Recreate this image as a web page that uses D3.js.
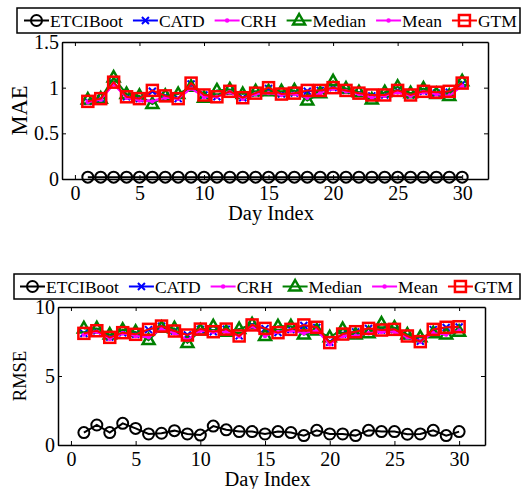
<!DOCTYPE html>
<html>
<head>
<meta charset="utf-8">
<script src="https://cdn.jsdelivr.net/npm/d3@7"></script>
<style>
    body { margin: 0; background: #fff; }
    svg text { font-family: 'Liberation Serif', serif; }
</style>
</head>
<body>
<div id="chart"></div>
<script>
// Day index 1..30
var days = [1, 2, 3, 4, 5, 6, 7, 8, 9, 10, 11, 12, 13, 14, 15,
            16, 17, 18, 19, 20, 21, 22, 23, 24, 25, 26, 27, 28, 29, 30];

var seriesNames = ["ETCIBoot", "CATD", "CRH", "Median", "Mean", "GTM"];

// MAE per method
var maeETCIBoot = [0.02, 0.02, 0.02, 0.02, 0.02, 0.02, 0.02, 0.02, 0.02, 0.02, 0.02, 0.02, 0.02, 0.02, 0.02,
                   0.02, 0.02, 0.02, 0.02, 0.02, 0.02, 0.02, 0.02, 0.02, 0.02, 0.02, 0.02, 0.02, 0.02, 0.02];
var maeCATD   = [0.85, 0.88, 1.05, 0.90, 0.88, 0.96, 0.91, 0.88, 1.04, 0.92, 0.90, 0.96, 0.89, 0.94, 0.99,
                 0.93, 0.94, 0.96, 0.97, 1.00, 0.97, 0.94, 0.91, 0.92, 0.97, 0.92, 0.96, 0.94, 0.95, 1.04];
var maeCRH    = [0.85, 0.87, 1.04, 0.89, 0.87, 0.86, 0.89, 0.88, 1.00, 0.90, 0.90, 0.95, 0.88, 0.93, 0.95,
                 0.92, 0.93, 0.90, 0.94, 0.99, 0.96, 0.93, 0.90, 0.91, 0.95, 0.91, 0.95, 0.93, 0.92, 1.02];
var maeMedian = [0.87, 0.88, 1.11, 0.93, 0.91, 0.82, 0.91, 0.93, 1.01, 0.89, 0.97, 0.98, 0.93, 0.96, 0.96,
                 0.96, 0.97, 0.86, 0.94, 1.07, 0.99, 0.95, 0.87, 0.95, 1.01, 0.94, 0.99, 0.93, 0.91, 1.07];
var maeMean   = [0.84, 0.87, 1.04, 0.89, 0.86, 0.85, 0.89, 0.88, 0.99, 0.90, 0.90, 0.95, 0.88, 0.93, 0.94,
                 0.92, 0.93, 0.89, 0.94, 0.99, 0.96, 0.93, 0.89, 0.91, 0.95, 0.91, 0.95, 0.93, 0.91, 1.02];
var maeGTM    = [0.85, 0.88, 1.06, 0.90, 0.88, 0.97, 0.91, 0.88, 1.05, 0.92, 0.90, 0.96, 0.89, 0.94, 1.00,
                 0.93, 0.94, 0.97, 0.97, 1.00, 0.97, 0.94, 0.92, 0.92, 0.97, 0.92, 0.96, 0.95, 0.96, 1.05];

// RMSE per method
var rmseETCIBoot = [0.90, 1.45, 0.90, 1.57, 1.20, 0.80, 0.85, 1.04, 0.80, 0.72, 1.37, 1.10, 0.97, 0.97, 0.80,
                    0.97, 0.90, 0.68, 1.06, 0.80, 0.80, 0.68, 1.06, 0.97, 0.97, 0.78, 0.80, 1.06, 0.68, 0.97];
var rmseCATD   = [8.08, 8.27, 7.82, 8.14, 8.02, 8.36, 8.60, 8.25, 7.98, 8.38, 8.21, 8.39, 7.91, 8.68, 8.43,
                  8.15, 8.37, 8.66, 8.52, 7.45, 8.04, 8.20, 8.44, 8.33, 8.37, 7.91, 7.52, 8.36, 8.51, 8.55];
var rmseCRH    = [8.02, 8.21, 7.72, 8.10, 7.92, 7.84, 8.42, 8.12, 7.62, 8.30, 8.18, 8.22, 7.88, 8.60, 7.95,
                  8.18, 8.30, 8.12, 8.32, 7.32, 7.92, 7.94, 8.12, 8.20, 8.22, 7.82, 7.50, 8.12, 8.02, 8.30];
var rmseMedian = [8.45, 8.45, 8.00, 8.35, 8.20, 7.60, 8.50, 8.45, 7.40, 8.30, 8.60, 8.20, 8.40, 8.75, 7.90,
                  8.60, 8.60, 8.00, 8.30, 7.80, 8.40, 8.00, 8.10, 8.80, 8.50, 8.00, 7.80, 8.10, 8.00, 8.20];
var rmseMean   = [8.00, 8.20, 7.70, 8.10, 7.90, 7.80, 8.40, 8.10, 7.60, 8.30, 8.20, 8.20, 7.90, 8.60, 7.90,
                  8.20, 8.30, 8.10, 8.30, 7.30, 7.90, 7.90, 8.10, 8.20, 8.20, 7.80, 7.50, 8.10, 8.00, 8.30];
var rmseGTM    = [8.09, 8.28, 7.80, 8.14, 8.02, 8.38, 8.62, 8.26, 7.97, 8.40, 8.21, 8.40, 7.90, 8.70, 8.45,
                  8.14, 8.38, 8.70, 8.53, 7.42, 8.04, 8.21, 8.45, 8.33, 8.38, 7.90, 7.49, 8.38, 8.53, 8.57];

// Tick values
var xTicks = [0, 5, 10, 15, 20, 25, 30];
var maeTicks = [0, 0.5, 1, 1.5];
var rmseTicks = [0, 5, 10];

var serif = "'Liberation Serif', serif";

function init() {
    var w = 531;
    var h = 489;

    // Style for each method (line colour + marker)
    var styles = {
        ETCIBoot: { color: "#000000", marker: "circle" },
        CATD:     { color: "#0000ff", marker: "cross" },
        CRH:      { color: "#ff00ff", marker: "dot" },
        Median:   { color: "#008000", marker: "triangle" },
        Mean:     { color: "#ff00ff", marker: "dot" },
        GTM:      { color: "#ff0000", marker: "square" }
    };

    var svg = d3.select("#chart")
        .append("svg")
        .attr("width", w)
        .attr("height", h);

    // Draw one marker of a given type at (0,0) inside group g
    function drawMarker(g, type, color) {
        if (type === "circle") {
            g.append("circle").attr("r", 5.5)
                .attr("fill", "none").attr("stroke", color).attr("stroke-width", 2);
        } else if (type === "cross") {
            g.append("path").attr("d", "M-3.5,-3.5L3.5,3.5M-3.5,3.5L3.5,-3.5")
                .attr("stroke", color).attr("stroke-width", 2);
        } else if (type === "dot") {
            g.append("circle").attr("r", 2.2).attr("fill", color);
        } else if (type === "triangle") {
            g.append("path").attr("d", "M0,-6.5L6,4L-6,4Z")
                .attr("fill", "none").attr("stroke", color).attr("stroke-width", 2.5);
        } else if (type === "square") {
            g.append("rect").attr("x", -5.5).attr("y", -5.5).attr("width", 11).attr("height", 11)
                .attr("fill", "none").attr("stroke", color).attr("stroke-width", 2.5);
        }
    }

    function drawLegend(x0, y0, x1, y1, itemStart) {
        var legend = svg.append("g");
        legend.append("rect")
            .attr("x", x0).attr("y", y0)
            .attr("width", x1 - x0).attr("height", y1 - y0)
            .attr("fill", "#fff").attr("stroke", "#000").attr("stroke-width", 1.5);

        var cy = (y0 + y1) / 2;
        var x = itemStart;
        seriesNames.forEach(function(name) {
            var st = styles[name];
            legend.append("line")
                .attr("x1", x).attr("x2", x + 25)
                .attr("y1", cy).attr("y2", cy)
                .attr("stroke", st.color).attr("stroke-width", 2);
            drawMarker(legend.append("g").attr("transform", "translate(" + (x + 12.5) + "," + cy + ")"),
                st.marker, st.color);
            var t = legend.append("text")
                .attr("x", x + 26).attr("y", cy)
                .attr("dy", "0.35em")
                .style("font-family", serif)
                .style("font-size", "17.5px")
                .text(name);
            x += 26 + t.node().getComputedTextLength() + 10;
        });
    }

    function drawPanel(opts) {
        var xScale = d3.scaleLinear()
            .domain([-1, 32])
            .range([opts.left, opts.right]);

        var yScale = d3.scaleLinear()
            .domain(opts.yDomain)
            .range([opts.bottom, opts.top]);

        // bottom axis with labels, inward ticks
        var gx = svg.append("g")
            .attr("transform", "translate(0," + opts.bottom + ")")
            .call(d3.axisBottom(xScale).tickValues(xTicks).tickSize(-4).tickSizeOuter(0).tickPadding(7));
        // top axis, no labels
        var gxt = svg.append("g")
            .attr("transform", "translate(0," + opts.top + ")")
            .call(d3.axisTop(xScale).tickValues(xTicks).tickSize(-4).tickSizeOuter(0).tickFormat(""));
        // left axis with labels
        var gy = svg.append("g")
            .attr("transform", "translate(" + opts.left + ",0)")
            .call(d3.axisLeft(yScale).tickValues(opts.yTicks).tickSize(-4).tickSizeOuter(0)
                .tickPadding(3).tickFormat(d3.format("")));
        // right axis, no labels
        var gyr = svg.append("g")
            .attr("transform", "translate(" + opts.right + ",0)")
            .call(d3.axisRight(yScale).tickValues(opts.yTicks).tickSize(-4).tickSizeOuter(0).tickFormat(""));

        [gx, gxt, gy, gyr].forEach(function(g) {
            g.attr("font-family", serif).attr("font-size", 20);
            g.selectAll(".domain").attr("stroke-width", 1.5);
            g.selectAll(".tick line").attr("stroke-width", 1);
            g.selectAll("text")
                .style("font-family", serif)
                .style("font-size", "20px")
                .attr("fill", "#000");
        });

        // axis titles
        svg.append("text")
            .attr("x", (opts.left + opts.right) / 2 - 4)
            .attr("y", opts.bottom + 41)
            .attr("text-anchor", "middle")
            .style("font-family", serif)
            .style("font-size", "20.5px")
            .text("Day Index");

        svg.append("text")
            .attr("transform", "translate(" + opts.yLabelX + "," + ((opts.top + opts.bottom) / 2) + ") rotate(-90)")
            .attr("text-anchor", "middle")
            .attr("dy", "0.35em")
            .style("font-family", serif)
            .style("font-size", opts.yLabelSize)
            .text(opts.yLabel);

        var line = d3.line()
            .x(function(d, i) { return xScale(days[i]); })
            .y(function(d) { return yScale(d); });

        seriesNames.forEach(function(name) {
            var st = styles[name];
            var values = opts.data[name];

            svg.append("path")
                .datum(values)
                .attr("d", line)
                .attr("fill", "none")
                .attr("stroke", st.color)
                .attr("stroke-width", 2);

            svg.append("g")
                .selectAll("g")
                .data(values)
                .enter()
                .append("g")
                .attr("transform", function(d, i) {
                    return "translate(" + xScale(days[i]) + "," + yScale(d) + ")";
                })
                .each(function() {
                    drawMarker(d3.select(this), st.marker, st.color);
                });
        });
    }

    drawLegend(17, 8, 520, 33, 24);
    drawPanel({
        left: 62, right: 488, top: 42, bottom: 179,
        yDomain: [0, 1.5], yTicks: maeTicks,
        yLabel: "MAE", yLabelX: 19, yLabelSize: "22.5px",
        data: { ETCIBoot: maeETCIBoot, CATD: maeCATD, CRH: maeCRH,
                Median: maeMedian, Mean: maeMean, GTM: maeGTM }
    });

    drawLegend(14, 274, 520, 299, 20);
    drawPanel({
        left: 58, right: 485, top: 307, bottom: 445,
        yDomain: [0, 10], yTicks: rmseTicks,
        yLabel: "RMSE", yLabelX: 20, yLabelSize: "18.5px",
        data: { ETCIBoot: rmseETCIBoot, CATD: rmseCATD, CRH: rmseCRH,
                Median: rmseMedian, Mean: rmseMean, GTM: rmseGTM }
    });
}

window.onload = init;
</script>
</body>
</html>
